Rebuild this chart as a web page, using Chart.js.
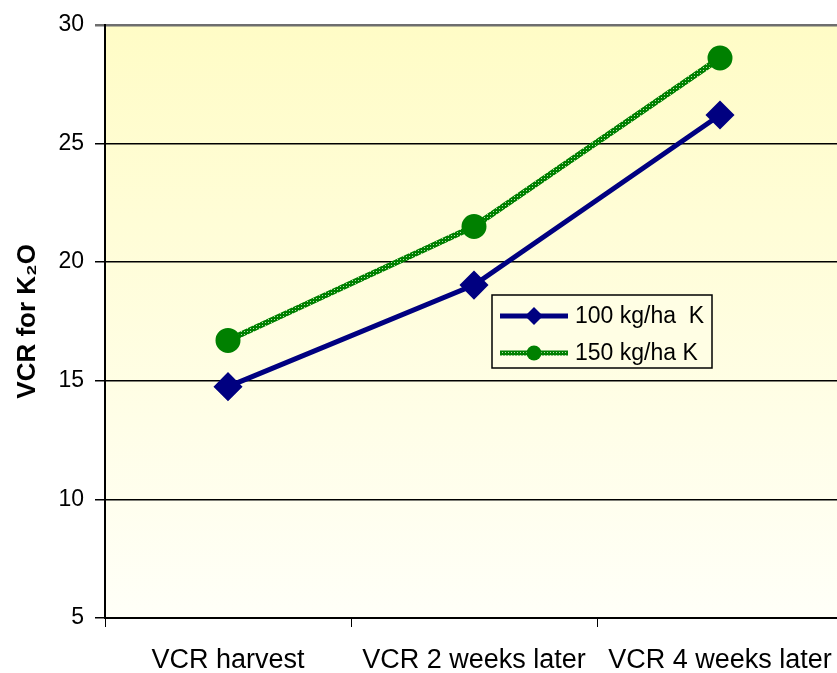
<!DOCTYPE html>
<html>
<head>
<meta charset="utf-8">
<script src="https://cdn.jsdelivr.net/npm/chart.js@4/dist/chart.umd.min.js"></script>
<style>
  html, body { margin: 0; padding: 0; background: #fff; overflow: hidden; }
  canvas { display: block; }
</style>
</head>
<body>
<canvas id="vcr" width="845" height="673"></canvas>
<script>
// categories and series
const categories = ['VCR harvest', 'VCR 2 weeks later', 'VCR 4 weeks later'];
const k100 = [14.75, 19.03, 26.2];
const k150 = [16.7, 21.5, 28.6];
const yTicks = [5, 10, 15, 20, 25, 30];

const FONT = 'Liberation Sans, Arial, sans-serif';

// speckled green stroke for the 150 kg/ha line
function speckle() {
  const c = document.createElement('canvas');
  c.width = 3; c.height = 3;
  const p = c.getContext('2d');
  p.fillStyle = '#008000';
  p.fillRect(0, 0, 3, 3);
  p.fillStyle = '#b8e0b0';
  p.fillRect(1, 1, 1, 1);
  return p.createPattern(c, 'repeat');
}

// yellow-to-cream fill behind the plot
const plotBackground = {
  id: 'plotBackground',
  beforeDraw(chart) {
    const { ctx, chartArea: a } = chart;
    const g = ctx.createLinearGradient(0, a.top, 0, a.bottom);
    g.addColorStop(0, '#fffcc6');
    g.addColorStop(1, '#fffff8');
    ctx.save();
    ctx.fillStyle = g;
    ctx.fillRect(a.left, a.top, a.right - a.left, a.bottom - a.top);
    ctx.restore();
  }
};

// boxed legend sitting inside the plot
const boxLegend = {
  id: 'boxLegend',
  afterDatasetsDraw(chart) {
    const { ctx } = chart;
    const x = 492, y = 295, w = 220, h = 73;
    ctx.save();
    ctx.fillStyle = '#fffee4';
    ctx.fillRect(x, y, w, h);
    ctx.strokeStyle = '#000';
    ctx.lineWidth = 1.5;
    ctx.strokeRect(x, y, w, h);
    const rows = [
      { ds: chart.data.datasets[0], cy: y + 21, label: '100 kg/ha  K' },
      { ds: chart.data.datasets[1], cy: y + 58, label: '150 kg/ha K' }
    ];
    rows.forEach((r, i) => {
      const x0 = x + 8, x1 = x + 76, cx = (x0 + x1) / 2;
      ctx.lineWidth = 5;
      ctx.strokeStyle = r.ds.borderColor;
      ctx.beginPath(); ctx.moveTo(x0, r.cy); ctx.lineTo(x1, r.cy); ctx.stroke();
      ctx.fillStyle = r.ds.pointBackgroundColor;
      ctx.beginPath();
      if (i === 1) {
        ctx.arc(cx, r.cy, 7.5, 0, Math.PI * 2);
      } else {
        ctx.moveTo(cx, r.cy - 9); ctx.lineTo(cx + 9, r.cy);
        ctx.lineTo(cx, r.cy + 9); ctx.lineTo(cx - 9, r.cy);
        ctx.closePath();
      }
      ctx.fill();
      ctx.fillStyle = '#000';
      ctx.font = '23px ' + FONT;
      ctx.textBaseline = 'middle';
      ctx.textAlign = 'left';
      ctx.fillText(r.label, x + 83, r.cy + 1);
    });
    ctx.restore();
  }
};

new Chart(document.getElementById('vcr'), {
  type: 'line',
  data: {
    labels: categories,
    datasets: [
      {
        label: '100 kg/ha  K',
        data: k100,
        borderColor: '#000080',
        backgroundColor: '#000080',
        pointBackgroundColor: '#000080',
        pointBorderColor: '#000080',
        borderWidth: 5,
        pointStyle: 'rectRot',
        pointRadius: 11,
        tension: 0
      },
      {
        label: '150 kg/ha K',
        data: k150,
        borderColor: speckle(),
        backgroundColor: '#008000',
        pointBackgroundColor: '#008000',
        pointBorderColor: '#008000',
        borderWidth: 6,
        pointStyle: 'circle',
        pointRadius: 9.5,
        tension: 0
      }
    ]
  },
  options: {
    responsive: false,
    animation: false,
    layout: { autoPadding: false, padding: { top: 23, right: 2, left: 0, bottom: 0 } },
    plugins: {
      legend: { display: false },
      tooltip: { enabled: false }
    },
    scales: {
      x: {
        offset: true,
        grid: {
          offset: true,
          drawOnChartArea: false,
          drawTicks: true,
          tickLength: 9,
          color: '#000'
        },
        border: { display: true, color: '#000', width: 2 },
        ticks: {
          color: '#000',
          font: { family: FONT, size: 27 },
          padding: 17,
          maxRotation: 0,
          autoSkip: false
        },
        afterFit(scale) {
          scale.height = 55;
          scale.paddingLeft = 0;
          scale.paddingRight = 0;
        }
      },
      y: {
        min: 5,
        max: 30,
        afterBuildTicks(scale) { scale.ticks = yTicks.map(v => ({ value: v })); },
        grid: {
          color: ctx => (ctx.tick && ctx.tick.value === 30 ? '#6e6e6e' : '#000'),
          lineWidth: ctx => (ctx.tick && ctx.tick.value === 30 ? 2.5 : 1.5),
          drawTicks: true,
          tickLength: 10
        },
        border: { display: true, color: '#000', width: 2 },
        ticks: {
          color: '#000',
          font: { family: FONT, size: 23 },
          padding: 11
        },
        title: {
          display: true,
          text: 'VCR for K₂O',
          color: '#000',
          font: { family: FONT, size: 26, weight: 'bold' },
          padding: { top: 12, bottom: 0 }
        },
        afterFit(scale) { scale.width = 105; }
      }
    }
  },
  plugins: [plotBackground, boxLegend]
});
</script>
</body>
</html>
